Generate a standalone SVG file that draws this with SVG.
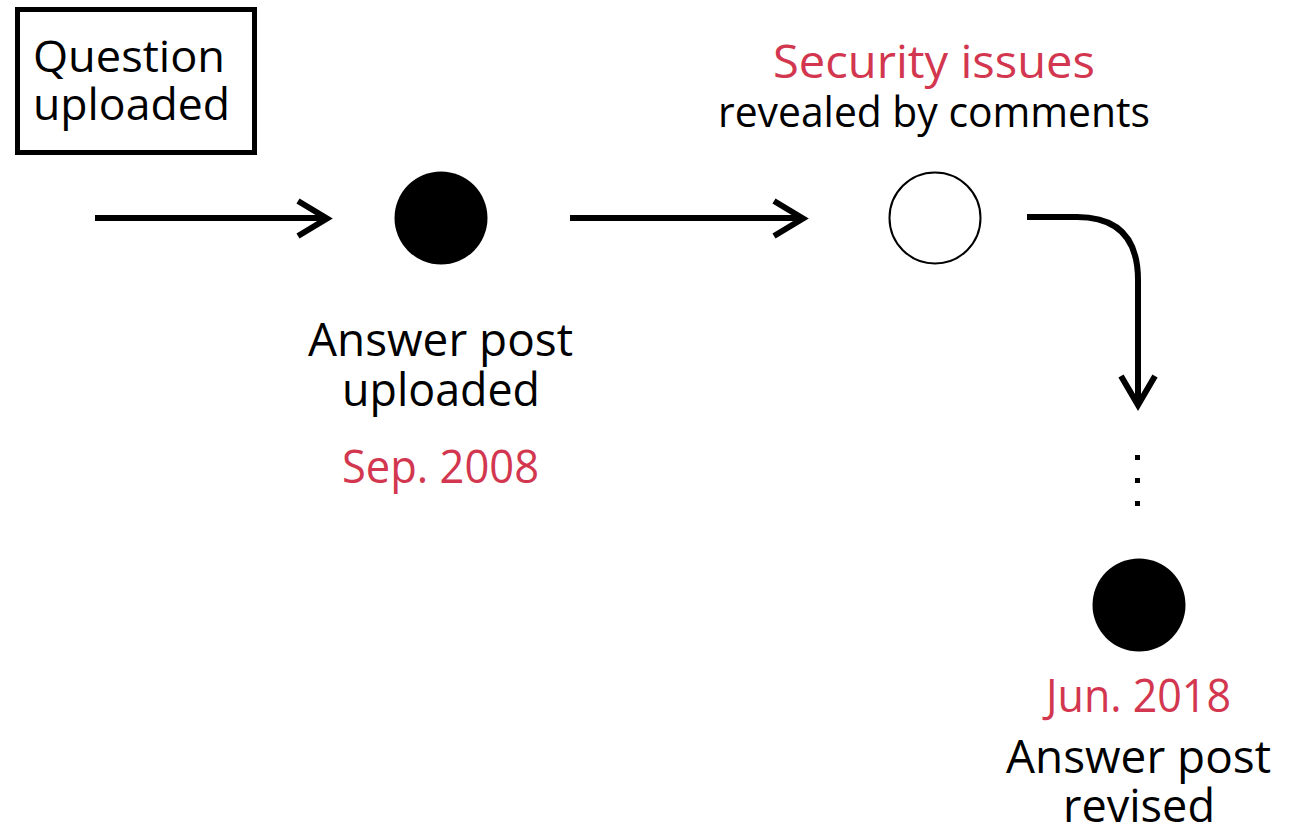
<svg xmlns="http://www.w3.org/2000/svg" width="1304" height="828" viewBox="0 0 1304 828">
<style>
text{font-family:"Open Sans","Noto Sans","DejaVu Sans",sans-serif;fill:#000}
.red{fill:#d2374f}
.line{fill:none;stroke:#000;stroke-width:6}
.head{fill:none;stroke:#000;stroke-width:6;stroke-linejoin:miter}
</style>
<rect width="1304" height="828" fill="#fff"/>
<g id="question">
<rect x="17.5" y="9.5" width="237" height="143" fill="#fff" stroke="#000" stroke-width="5"/>
<text x="33" y="72" font-size="44" textLength="192" lengthAdjust="spacingAndGlyphs">Question</text>
<text x="33" y="120" font-size="44" textLength="197" lengthAdjust="spacingAndGlyphs">uploaded</text>
</g>
<g id="answer-uploaded">
<circle cx="441" cy="218" r="46.5" fill="#000"/>
<text x="308" y="356" font-size="46" textLength="265" lengthAdjust="spacingAndGlyphs">Answer post</text>
<text x="342" y="406" font-size="46" textLength="198" lengthAdjust="spacingAndGlyphs">uploaded</text>
<text class="red" x="342" y="483" font-size="46" textLength="197" lengthAdjust="spacingAndGlyphs">Sep. 2008</text>
</g>
<g id="security">
<circle cx="935" cy="218" r="45.5" fill="#fff" stroke="#000" stroke-width="2"/>
<text class="red" x="773" y="78" font-size="46" textLength="322" lengthAdjust="spacingAndGlyphs">Security issues</text>
<text x="718" y="127" font-size="42" textLength="432" lengthAdjust="spacingAndGlyphs">revealed by comments</text>
</g>
<g id="ellipsis">
<rect x="1135" y="455" width="5" height="5" fill="#000"/>
<rect x="1135" y="478" width="5" height="5" fill="#000"/>
<rect x="1135" y="501" width="5" height="5" fill="#000"/>
</g>
<g id="answer-revised">
<circle cx="1139" cy="605" r="46.5" fill="#000"/>
<text class="red" x="1046" y="712" font-size="46" textLength="185" lengthAdjust="spacingAndGlyphs">Jun. 2018</text>
<text x="1006" y="773" font-size="46" textLength="265" lengthAdjust="spacingAndGlyphs">Answer post</text>
<text x="1063" y="822" font-size="46" textLength="152" lengthAdjust="spacingAndGlyphs">revised</text>
</g>
<g id="connectors">
<path class="line" d="M95 218 H326"/>
<path class="head" d="M298 201 L327 218.5 L298 236"/>
<path class="line" d="M570 218 H802"/>
<path class="head" d="M774 201 L803 218.5 L774 236"/>
<path class="line" d="M1027 217 H1077 Q1138 217 1138 280 V404"/>
<path class="head" d="M1121 376 L1138 405 L1155 376"/>
</g>
</svg>
